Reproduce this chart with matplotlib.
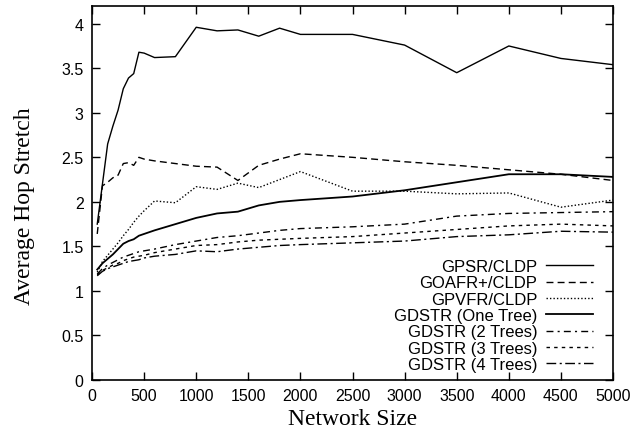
import numpy as np
import matplotlib.pyplot as plt

# network sizes used in the simulation
sizes = [50, 100, 150, 200, 250, 300, 350, 400, 450, 500, 600, 800,
         1000, 1200, 1400, 1600, 1800, 2000, 2500, 3000, 3500, 4000, 4500, 5000]

gpsr = [1.75, 2.20, 2.65, 2.85, 3.03, 3.27, 3.39, 3.44, 3.68, 3.67, 3.62, 3.63,
        3.96, 3.92, 3.93, 3.86, 3.95, 3.88, 3.88, 3.76, 3.45, 3.75, 3.61, 3.54]
goafr = [1.64, 2.18, 2.22, 2.27, 2.30, 2.43, 2.44, 2.41, 2.50, 2.48, 2.46, 2.43,
         2.40, 2.39, 2.24, 2.41, 2.48, 2.54, 2.50, 2.45, 2.41, 2.36, 2.31, 2.24]
gpvfr = [1.21, 1.33, 1.40, 1.47, 1.54, 1.62, 1.69, 1.77, 1.84, 1.90, 2.01, 1.99,
         2.17, 2.14, 2.21, 2.16, 2.25, 2.34, 2.12, 2.12, 2.09, 2.10, 1.94, 2.02]
one_tree = [1.24, 1.31, 1.36, 1.41, 1.47, 1.53, 1.56, 1.58, 1.62, 1.64, 1.68, 1.75,
            1.82, 1.87, 1.89, 1.96, 2.00, 2.02, 2.06, 2.13, 2.22, 2.31, 2.31, 2.28]
two_trees = [1.19, 1.25, 1.29, 1.32, 1.35, 1.38, 1.40, 1.42, 1.44, 1.45, 1.47, 1.52,
             1.56, 1.60, 1.62, 1.65, 1.68, 1.70, 1.72, 1.75, 1.84, 1.87, 1.88, 1.89]
three_trees = [1.18, 1.23, 1.26, 1.29, 1.31, 1.34, 1.36, 1.38, 1.39, 1.40, 1.43, 1.47,
               1.51, 1.52, 1.55, 1.57, 1.58, 1.59, 1.61, 1.65, 1.69, 1.73, 1.75, 1.73]
four_trees = [1.17, 1.22, 1.25, 1.27, 1.29, 1.31, 1.33, 1.34, 1.35, 1.37, 1.39, 1.41,
              1.45, 1.44, 1.47, 1.49, 1.51, 1.52, 1.54, 1.56, 1.61, 1.63, 1.67, 1.66]

labels = ['GPSR/CLDP', 'GOAFR+/CLDP', 'GPVFR/CLDP', 'GDSTR (One Tree)',
          'GDSTR (2 Trees)', 'GDSTR (3 Trees)', 'GDSTR (4 Trees)']
series = [gpsr, goafr, gpvfr, one_tree, two_trees, three_trees, four_trees]
styles = ['-', (0, (5, 3)), (0, (1, 1.5)), '-',
          (0, (5, 3, 1.5, 3)), (0, (2.5, 3)), (0, (7, 2.5, 1.5, 2.5))]
widths = [1.0, 1.0, 1.0, 1.3, 1.0, 1.0, 1.0]

fig = plt.figure(figsize=(6.44, 4.31), dpi=100)
ax = fig.add_axes([0.1429, 0.116, 0.809, 0.868])

for ys, lab, ls, lw in zip(series, labels, styles, widths):
    ax.plot(sizes, ys, color='black', linestyle=ls, linewidth=lw, label=lab)

ax.set_xlim(0, 5000)
ax.set_ylim(0, 4.2)
ax.set_xticks(np.arange(0, 5001, 500))
ax.set_yticks(np.arange(0, 4.01, 0.5))
ax.set_yticklabels(['0', '0.5', '1', '1.5', '2', '2.5', '3', '3.5', '4'])
ax.tick_params(direction='in', length=6, width=1, top=True, right=True,
               labelsize=11.5, pad=6)
for lbl in ax.get_xticklabels() + ax.get_yticklabels():
    lbl.set_family('Liberation Sans')
for sp in ax.spines.values():
    sp.set_linewidth(1.2)

ax.set_xlabel('Network Size', family='Liberation Serif', fontsize=17, labelpad=3)
ax.set_ylabel('Average Hop Stretch', family='Liberation Serif', fontsize=17)
ax.yaxis.set_label_coords(-0.109, 0.468)

leg = ax.legend(loc='lower right', frameon=False, markerfirst=False,
                prop={'family': 'Liberation Sans', 'size': 12},
                handlelength=2.8, labelspacing=0.08, borderpad=0,
                borderaxespad=0, handletextpad=0.55,
                bbox_to_anchor=(0.9616, 0.021))
for t in leg.get_texts():
    t.set_ha('right')
leg._legend_box.align = 'right'

fig.savefig('out.png', dpi=100)
